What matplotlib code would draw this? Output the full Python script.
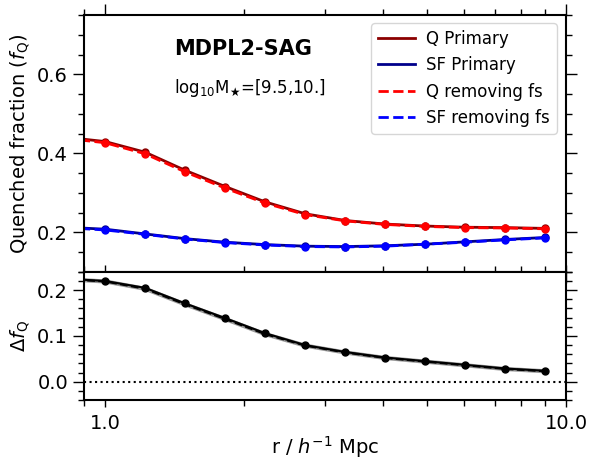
import numpy as np
import matplotlib
matplotlib.use("Agg")
import matplotlib.pyplot as plt
from matplotlib.ticker import FixedLocator, NullFormatter, MultipleLocator

# radial bins (h^-1 Mpc)
r = [0.819, 1.0, 1.221, 1.492, 1.822, 2.226, 2.718, 3.320, 4.055, 4.953, 6.050, 7.389, 9.025]

q_primary = [0.441, 0.430, 0.403, 0.357, 0.316, 0.277, 0.247, 0.230, 0.221, 0.216, 0.213, 0.212, 0.210]
sf_primary = [0.213, 0.208, 0.196, 0.184, 0.175, 0.169, 0.165, 0.164, 0.166, 0.170, 0.176, 0.182, 0.187]
q_nofs = [0.438, 0.427, 0.399, 0.353, 0.312, 0.274, 0.245, 0.229, 0.220, 0.215, 0.212, 0.211, 0.209]
sf_nofs = [0.212, 0.206, 0.195, 0.183, 0.174, 0.168, 0.164, 0.163, 0.165, 0.170, 0.175, 0.181, 0.186]

dq_primary = [0.225, 0.220, 0.205, 0.171, 0.139, 0.106, 0.080, 0.065, 0.053, 0.045, 0.037, 0.029, 0.024]
dq_nofs = [0.224, 0.219, 0.203, 0.169, 0.137, 0.104, 0.079, 0.064, 0.052, 0.044, 0.036, 0.028, 0.023]

xticks = [1.0, 10.0]
xticklabels = ["1.0", "10.0"]

fig = plt.figure(figsize=(5.92, 4.61), dpi=100)
gs = fig.add_gridspec(2, 1, height_ratios=[2, 1], hspace=0,
                      left=0.142, right=0.956, top=0.967, bottom=0.132)
ax1 = fig.add_subplot(gs[0])
ax2 = fig.add_subplot(gs[1], sharex=ax1)

ax1.plot(r, q_primary, color="darkred", lw=2, ls="-", marker="o", ms=5, label="Q Primary")
ax1.plot(r, sf_primary, color="darkblue", lw=2, ls="-", marker="o", ms=5, label="SF Primary")
ax1.plot(r, q_nofs, color="red", lw=2, ls="--", marker="o", ms=5, label="Q removing fs")
ax1.plot(r, sf_nofs, color="blue", lw=2, ls="--", marker="o", ms=5, label="SF removing fs")

ax1.set_xscale("log")
ax1.set_xlim(0.9, 10.0)
ax1.set_ylim(0.1, 0.75)
ax1.yaxis.set_major_locator(MultipleLocator(0.2))
ax1.yaxis.set_minor_locator(MultipleLocator(0.05))
ax1.set_ylabel(r"Quenched fraction ($f_{\rm Q}$)", fontsize=14)

leg_lines = ax1.get_lines()
handles = [plt.Line2D([], [], color=l.get_color(), ls=l.get_linestyle(), lw=2) for l in leg_lines]
ax1.legend(handles, [l.get_label() for l in leg_lines], loc="upper right", fontsize=12,
           frameon=True, framealpha=0.8, borderaxespad=0.0, bbox_to_anchor=(0.981, 0.969),
           handlelength=2.2, handletextpad=0.7)

ax1.text(0.33, 0.87, "MDPL2-SAG", transform=ax1.transAxes, ha="center", va="center",
         fontsize=15, fontweight="bold")
ax1.text(0.345, 0.715, r"log$_{10}$M$_{\bigstar}$=[9.5,10.]", transform=ax1.transAxes,
         ha="center", va="center", fontsize=12)

ax2.plot(r, dq_nofs, color="grey", lw=3, alpha=0.8, ls="-")
ax2.plot(r, dq_primary, color="black", lw=1.5, ls="-", marker="o", ms=5)
ax2.plot(r, dq_nofs, color="black", lw=1.5, ls="--")
ax2.axhline(0.0, color="black", ls=":", lw=1.5)
ax2.set_ylim(-0.04, 0.24)
ax2.yaxis.set_major_locator(MultipleLocator(0.1))
ax2.yaxis.set_minor_locator(MultipleLocator(0.02))
ax2.set_ylabel(r"$\Delta f_{\rm Q}$", fontsize=14)
ax2.set_xlabel(r"r / $h^{-1}$ Mpc", fontsize=14, labelpad=1)

ax2.xaxis.set_major_locator(FixedLocator(xticks))
ax2.set_xticklabels(xticklabels)
ax2.xaxis.set_minor_locator(FixedLocator([0.9, 2, 3, 4, 5, 6, 7, 8, 9]))
ax2.xaxis.set_minor_formatter(NullFormatter())
plt.setp(ax1.get_xticklabels(), visible=False)

for ax in (ax1, ax2):
    ax.tick_params(which="both", direction="out", top=True, right=True, labelsize=14)
    ax.tick_params(which="major", length=8, width=1)
    ax.tick_params(which="minor", length=4, width=1)
    for s in ax.spines.values():
        s.set_linewidth(1.5)
ax2.tick_params(axis="x", which="major", length=5, pad=5)

fig.savefig("out.png", dpi=100)
